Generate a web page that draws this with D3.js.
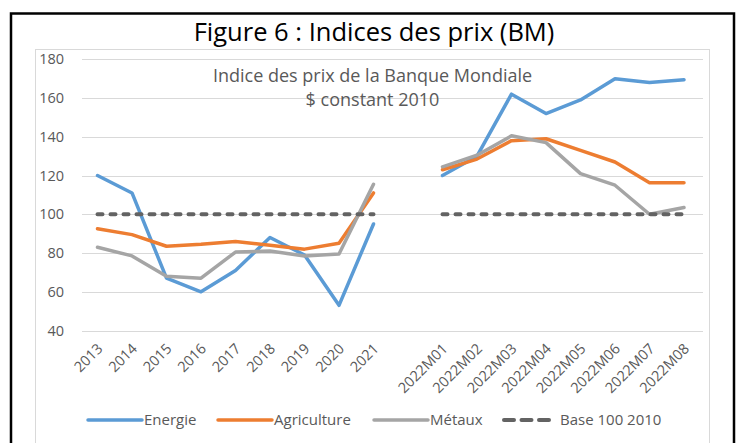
<!DOCTYPE html>
<html>
<head>
<meta charset="utf-8">
<script src="https://cdn.jsdelivr.net/npm/d3@7"></script>
<style>
  body { margin: 0; background: #fff; }
  text { font-family: "Open Sans", sans-serif; }
  .grid line { stroke: #d9d9d9; stroke-width: 1; }
  .axisColor text { fill: #595959; }
</style>
</head>
<body>
<div class="d3line"></div>
<script>
// categories (blank slot between the years and the months)
var categories = ["2013", "2014", "2015", "2016", "2017", "2018", "2019", "2020", "2021", "",
  "2022M01", "2022M02", "2022M03", "2022M04", "2022M05", "2022M06", "2022M07", "2022M08"];

var energie     = [120, 111, 67, 60, 71, 88, 79, 53, 95, null, 120, 130, 162, 152, 159, 170, 168, 169.5];
var agriculture = [92.5, 89.5, 83.5, 84.5, 86, 84, 82, 85, 111, null, 123, 128.5, 138, 139, 133, 127, 116.3, 116.3];
var metaux      = [83, 78.5, 68, 67, 80.5, 81, 78.5, 79.5, 115.5, null, 124.5, 130.5, 140.5, 137, 121, 115, 100, 103.5];
var base        = [100, 100, 100, 100, 100, 100, 100, 100, 100, null, 100, 100, 100, 100, 100, 100, 100, 100];

var yTicks = [40, 60, 80, 100, 120, 140, 160, 180];

var series = [
  { name: "Energie", values: energie, color: "#5b9bd5", dash: null },
  { name: "Agriculture", values: agriculture, color: "#ed7d31", dash: null },
  { name: "Métaux", values: metaux, color: "#a5a5a5", dash: null },
  { name: "Base 100 2010", values: base, color: "#636363", dash: "5,8" }
];

var W = 741, H = 443;
var plot = { left: 80.25, right: 701.25, top: 59.3, bottom: 330.5 };

var svg = d3.select(".d3line").append("svg")
    .attr("width", W)
    .attr("height", H);

// frame of the figure + chart area
svg.append("path")
    .attr("d", "M11," + H + "V13.5H734V" + H)
    .attr("fill", "none")
    .attr("stroke", "#000")
    .attr("stroke-width", 2.5);

svg.append("rect")
    .attr("x", 35.5).attr("y", 49.5)
    .attr("width", 674).attr("height", 420)
    .attr("fill", "none")
    .attr("stroke", "#d9d9d9");

// title
svg.append("text")
    .attr("x", 374).attr("y", 41)
    .attr("text-anchor", "middle")
    .style("font-size", "25.5px")
    .attr("fill", "#000")
    .text("Figure 6 : Indices des prix (BM)");

// scales
var xScale = d3.scalePoint()
    .domain(categories.map((c, i) => i))
    .range([plot.left, plot.right])
    .padding(0.5);

var yScale = d3.scaleLinear()
    .domain([40, 180])
    .range([plot.bottom, plot.top]);

// horizontal gridlines
svg.append("g")
    .attr("class", "grid")
    .selectAll("line")
    .data(yTicks)
    .enter().append("line")
    .attr("x1", 82).attr("x2", 703)
    .attr("y1", d => Math.round(yScale(d)) + 0.5)
    .attr("y2", d => Math.round(yScale(d)) + 0.5);

// y axis labels
var yAxis = svg.append("g")
    .attr("class", "axisColor")
    .attr("transform", "translate(64,0)")
    .call(d3.axisLeft(yScale).tickValues(yTicks).tickSize(0).tickPadding(0));
yAxis.select(".domain").remove();
yAxis.selectAll("text").style("font-size", "14.5px").attr("font-family", null);

// x axis labels, rotated
var xAxis = svg.append("g")
    .attr("class", "axisColor")
    .attr("transform", "translate(0," + 346 + ")")
    .call(d3.axisBottom(xScale).tickFormat(i => categories[i]).tickSize(0).tickPadding(0));
xAxis.select(".domain").remove();
xAxis.selectAll("text")
    .style("font-size", "14.5px")
    .attr("font-family", null)
    .attr("text-anchor", "end")
    .attr("dy", "0.35em")
    .attr("dx", "0")
    .attr("y", 0)
    .attr("transform", "translate(2,0) rotate(-45)");

// lines
var line = d3.line()
    .defined(d => d != null)
    .x((d, i) => xScale(i))
    .y(d => yScale(d));

svg.append("g").selectAll("path")
    .data(series)
    .enter().append("path")
    .attr("fill", "none")
    .attr("stroke", d => d.color)
    .attr("stroke-width", d => d.dash ? 4 : 3.5)
    .attr("stroke-linejoin", "round")
    .attr("stroke-linecap", "round")
    .attr("stroke-dasharray", d => d.dash)
    .attr("d", d => line(d.values));

// subtitle inside the plot
svg.append("text")
    .attr("x", 372.5).attr("y", 82)
    .attr("text-anchor", "middle")
    .attr("fill", "#595959")
    .style("font-size", "18px")
    .text("Indice des prix de la Banque Mondiale");
svg.append("text")
    .attr("x", 372.5).attr("y", 106)
    .attr("text-anchor", "middle")
    .attr("fill", "#595959")
    .style("font-size", "18px")
    .text("$ constant 2010");

// legend
var legendX = [88, 218, 374, 502];
var legend = svg.append("g").selectAll("g")
    .data(series)
    .enter().append("g")
    .attr("transform", (d, i) => "translate(" + legendX[i] + ",420)");
legend.append("line")
    .attr("x1", d => d.dash ? 2 : 0).attr("x2", 54)
    .attr("stroke", d => d.color)
    .attr("stroke-width", d => d.dash ? 4 : 3.5)
    .attr("stroke-linecap", "round")
    .attr("stroke-dasharray", d => d.dash ? "10,7.5" : null);
legend.append("text")
    .attr("x", d => d.dash ? 58 : 56)
    .attr("dy", "0.35em")
    .attr("fill", "#595959")
    .style("font-size", "15px")
    .text(d => d.name);
</script>
</body>
</html>
